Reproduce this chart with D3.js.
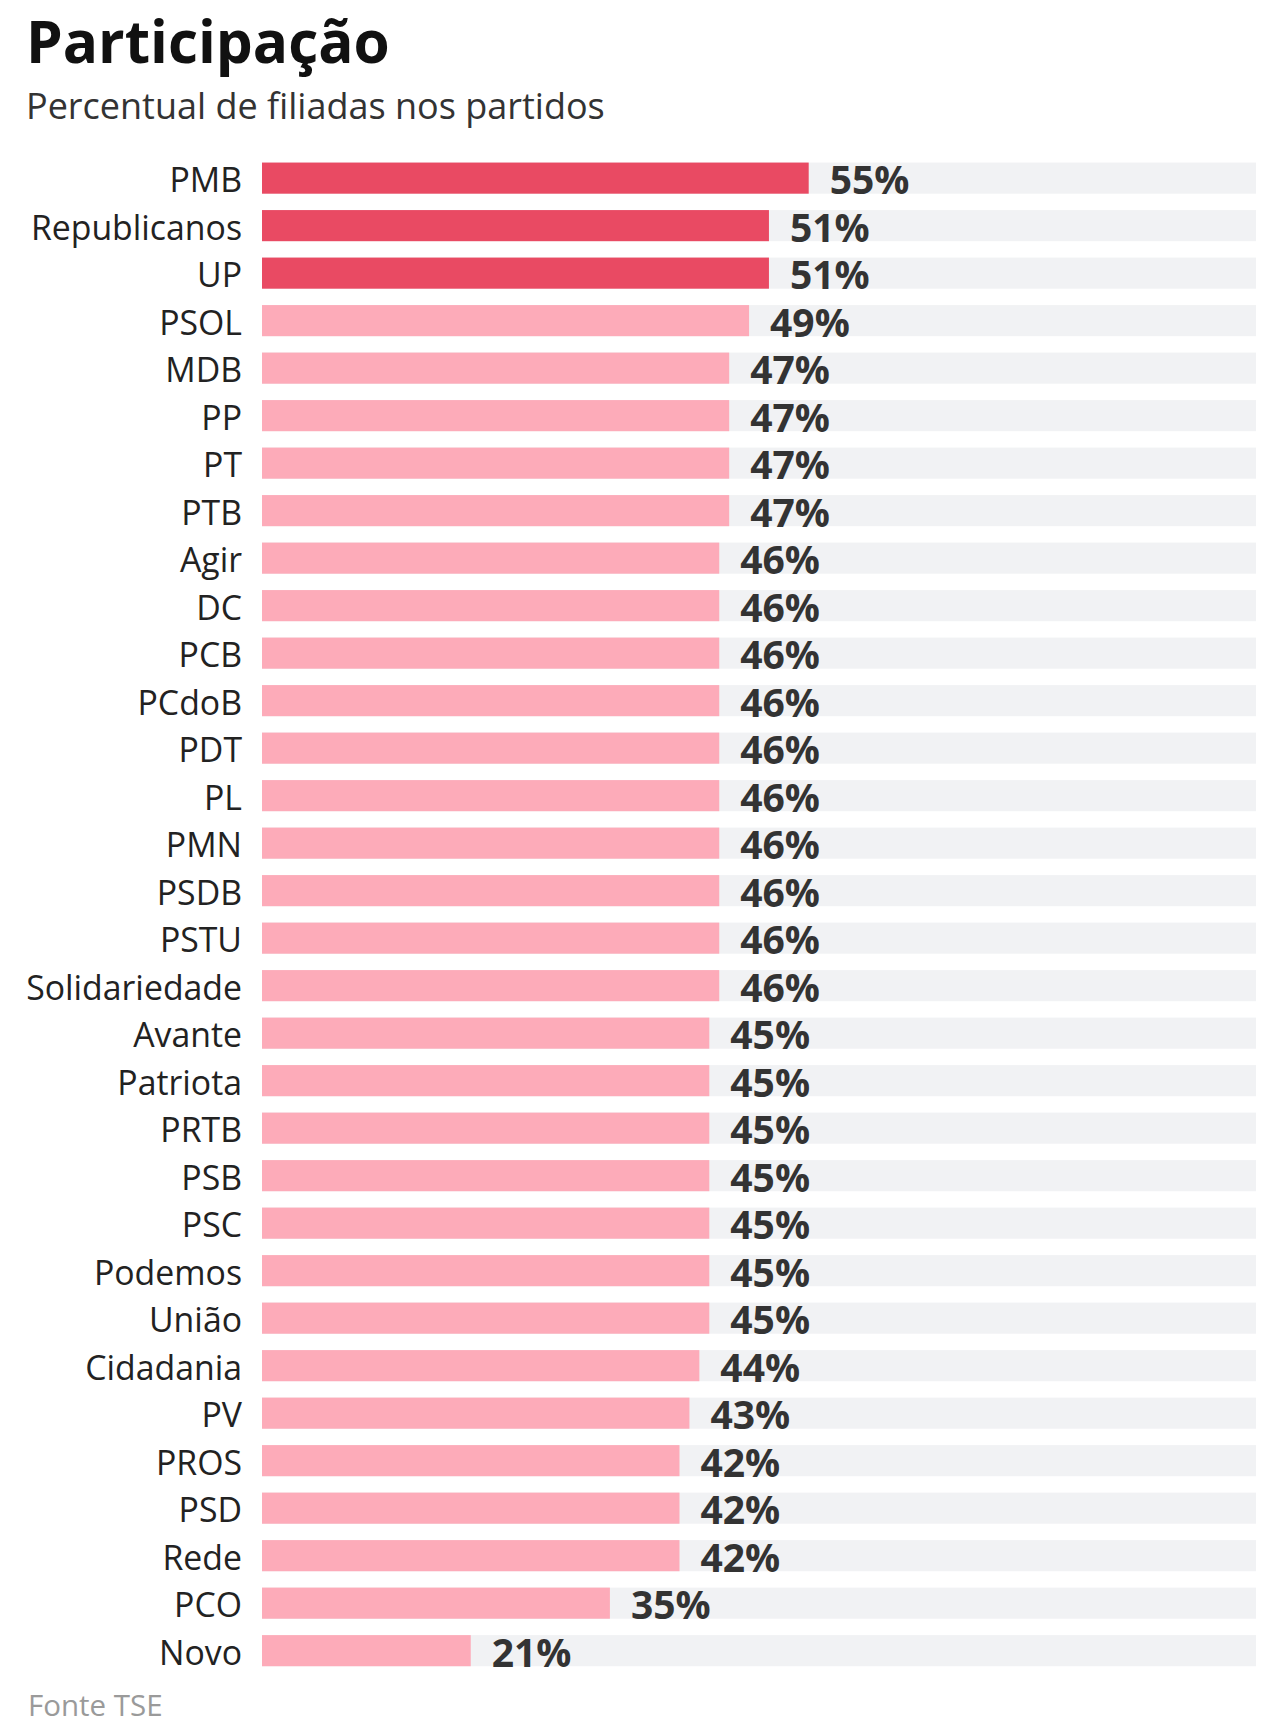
<!DOCTYPE html>
<html><head><meta charset="utf-8">
<script src="https://cdn.jsdelivr.net/npm/d3@7"></script>
<style>
html,body{margin:0;padding:0;background:#fff;}
svg{display:block;font-family:"Open Sans",sans-serif;}
</style></head>
<body>
<svg id="chart" width="1280" height="1734"></svg>
<script>
const categories = ["PMB","Republicanos","UP","PSOL","MDB","PP","PT","PTB","Agir","DC","PCB","PCdoB","PDT","PL","PMN","PSDB","PSTU","Solidariedade","Avante","Patriota","PRTB","PSB","PSC","Podemos","União","Cidadania","PV","PROS","PSD","Rede","PCO","Novo"];
const values = [55,51,51,49,47,47,47,47,46,46,46,46,46,46,46,46,46,46,45,45,45,45,45,45,45,44,43,42,42,42,35,21];
const highlighted = ["PMB","Republicanos","UP"];
const title = "Participação";
const subtitle = "Percentual de filiadas nos partidos";
const source = "Fonte TSE";

const svg = d3.select("#chart");
const left = 262, right = 1256;
const x = d3.scaleLinear().domain([0,100]).range([left,right]);
const y = d3.scaleBand().domain(categories).range([154.5, 1674.3]).paddingInner(0.345).paddingOuter(0.17);

svg.append("text").attr("x",26).attr("y",63).attr("font-size",58.5).attr("font-weight",700).attr("fill","#111").text(title);
svg.append("text").attr("x",26).attr("y",119).attr("font-size",36).attr("fill","#333").text(subtitle);

const rows = svg.append("g").selectAll("g").data(categories.map((c,i)=>({c,v:values[i]}))).join("g");
rows.append("rect").attr("x",x(0)).attr("y",d=>y(d.c)).attr("width",x(100)-x(0)).attr("height",y.bandwidth()).attr("fill","#f1f2f4");
rows.append("rect").attr("x",x(0)).attr("y",d=>y(d.c)).attr("width",d=>x(d.v)-x(0)).attr("height",y.bandwidth())
  .attr("fill",d=>highlighted.includes(d.c)?"#e94a63":"#fdabb9");
rows.append("text").attr("x",242).attr("y",d=>y(d.c)+y.bandwidth()/2+2).attr("dy","0.36em").attr("text-anchor","end")
  .attr("font-size",33.8).attr("fill","#222").text(d=>d.c);
rows.append("text").attr("x",d=>x(d.v)+21).attr("y",d=>y(d.c)+y.bandwidth()/2+2).attr("dy","0.36em")
  .attr("font-size",39).attr("font-weight",700).attr("fill","#333").text(d=>d.v+"%");

svg.append("text").attr("x",28).attr("y",1716).attr("font-size",29.5).attr("fill","#9a9a9a").text(source);
</script>
</body></html>
